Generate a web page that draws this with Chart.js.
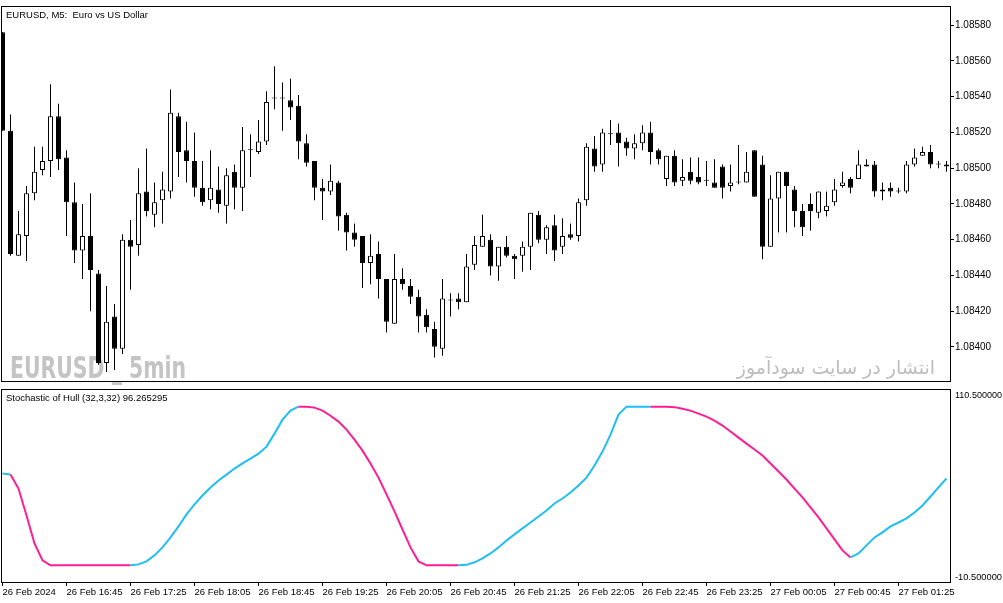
<!DOCTYPE html>
<html>
<head>
<meta charset="utf-8">
<script src="https://cdn.jsdelivr.net/npm/chart.js@4.4.0/dist/chart.umd.min.js"></script>
<style>
  html, body { margin: 0; padding: 0; background: #fff; }
  #wrap { position: relative; width: 1003px; height: 603px; overflow: hidden; }
  #priceChart { position: absolute; left: 0; top: 0; }
  #stochChart { position: absolute; left: 0; top: 388px; }
</style>
</head>
<body>
<div id="wrap">
  <canvas id="priceChart" width="1003" height="388"></canvas>
  <canvas id="stochChart" width="1003" height="215"></canvas>
</div>
<script>
// EURUSD M5 candles, one entry per bar (26 Feb 16:05 .. 27 Feb 01:55)
const candleOpen = [
  1.08576, 1.08521, 1.08451, 1.08462, 1.08486, 1.08499, 1.08504, 1.08529, 1.08506, 1.08481,
  1.08454, 1.08462, 1.08441, 1.08391, 1.08417, 1.08399, 1.08460, 1.08457, 1.08487, 1.08474,
  1.08482, 1.08487, 1.08529, 1.08510, 1.08504, 1.08489, 1.08482, 1.08488, 1.08479, 1.08498,
  1.08489, 1.08510, 1.08509, 1.08515, 1.08539, 1.08539, 1.08538, 1.08535, 1.08514, 1.08504,
  1.08489, 1.08487, 1.08492, 1.08474, 1.08464, 1.08462, 1.08447, 1.08452, 1.08438, 1.08413,
  1.08438, 1.08434, 1.08428, 1.08418, 1.08410, 1.08399, 1.08426, 1.08427, 1.08425, 1.08446,
  1.08456, 1.08460, 1.08445, 1.08456, 1.08451, 1.08451, 1.08456, 1.08474, 1.08460, 1.08468,
  1.08456, 1.08463, 1.08462, 1.08482, 1.08511, 1.08502, 1.08519, 1.08520, 1.08515, 1.08511,
  1.08514, 1.08520, 1.08510, 1.08494, 1.08507, 1.08493, 1.08498, 1.08495, 1.08493, 1.08492,
  1.08501, 1.08490, 1.08492, 1.08492, 1.08510, 1.08502, 1.08456, 1.08483, 1.08498, 1.08488,
  1.08476, 1.08480, 1.08475, 1.08476, 1.08481, 1.08490, 1.08494, 1.08494, 1.08502, 1.08502,
  1.08487, 1.08489, 1.08487, 1.08487, 1.08502, 1.08507, 1.08509, 1.08502, 1.08501
];
const candleHigh = [
  1.08576, 1.08530, 1.08476, 1.08490, 1.08512, 1.08512, 1.08547, 1.08536, 1.08510, 1.08492,
  1.08480, 1.08486, 1.08443, 1.08434, 1.08424, 1.08463, 1.08471, 1.08500, 1.08511, 1.08492,
  1.08498, 1.08544, 1.08531, 1.08526, 1.08520, 1.08504, 1.08510, 1.08501, 1.08500, 1.08502,
  1.08523, 1.08519, 1.08527, 1.08543, 1.08557, 1.08548, 1.08550, 1.08541, 1.08519, 1.08504,
  1.08494, 1.08502, 1.08493, 1.08475, 1.08469, 1.08462, 1.08463, 1.08459, 1.08438, 1.08452,
  1.08444, 1.08438, 1.08432, 1.08421, 1.08414, 1.08438, 1.08430, 1.08430, 1.08452, 1.08462,
  1.08474, 1.08463, 1.08456, 1.08462, 1.08452, 1.08459, 1.08475, 1.08476, 1.08468, 1.08474,
  1.08472, 1.08469, 1.08483, 1.08514, 1.08518, 1.08522, 1.08527, 1.08525, 1.08517, 1.08519,
  1.08524, 1.08526, 1.08511, 1.08507, 1.08510, 1.08505, 1.08506, 1.08506, 1.08504, 1.08505,
  1.08502, 1.08502, 1.08513, 1.08509, 1.08510, 1.08507, 1.08496, 1.08498, 1.08498, 1.08490,
  1.08480, 1.08486, 1.08487, 1.08487, 1.08494, 1.08498, 1.08495, 1.08510, 1.08505, 1.08504,
  1.08492, 1.08492, 1.08489, 1.08504, 1.08511, 1.08512, 1.08513, 1.08504, 1.08504
];
const candleLow = [
  1.08521, 1.08451, 1.08451, 1.08448, 1.08482, 1.08496, 1.08495, 1.08499, 1.08462, 1.08447,
  1.08438, 1.08420, 1.08390, 1.08386, 1.08387, 1.08396, 1.08432, 1.08451, 1.08473, 1.08467,
  1.08469, 1.08483, 1.08495, 1.08492, 1.08484, 1.08479, 1.08477, 1.08475, 1.08469, 1.08477,
  1.08476, 1.08495, 1.08508, 1.08513, 1.08533, 1.08521, 1.08527, 1.08505, 1.08501, 1.08482,
  1.08471, 1.08485, 1.08465, 1.08454, 1.08456, 1.08433, 1.08435, 1.08427, 1.08408, 1.08413,
  1.08432, 1.08424, 1.08408, 1.08408, 1.08394, 1.08395, 1.08417, 1.08421, 1.08425, 1.08443,
  1.08456, 1.08440, 1.08437, 1.08450, 1.08438, 1.08442, 1.08443, 1.08458, 1.08452, 1.08448,
  1.08452, 1.08460, 1.08459, 1.08479, 1.08498, 1.08498, 1.08513, 1.08501, 1.08507, 1.08505,
  1.08510, 1.08502, 1.08502, 1.08490, 1.08490, 1.08490, 1.08491, 1.08491, 1.08490, 1.08489,
  1.08483, 1.08487, 1.08491, 1.08492, 1.08484, 1.08449, 1.08456, 1.08464, 1.08464, 1.08467,
  1.08462, 1.08465, 1.08472, 1.08473, 1.08479, 1.08489, 1.08486, 1.08494, 1.08501, 1.08484,
  1.08482, 1.08484, 1.08486, 1.08486, 1.08501, 1.08507, 1.08500, 1.08500, 1.08498
];
const candleClose = [
  1.08521, 1.08452, 1.08463, 1.08486, 1.08498, 1.08504, 1.08529, 1.08505, 1.08481, 1.08454,
  1.08462, 1.08443, 1.08391, 1.08414, 1.08399, 1.08460, 1.08456, 1.08486, 1.08476, 1.08481,
  1.08488, 1.08531, 1.08509, 1.08504, 1.08489, 1.08481, 1.08489, 1.08480, 1.08496, 1.08489,
  1.08510, 1.08510, 1.08515, 1.08537, 1.08539, 1.08539, 1.08534, 1.08515, 1.08503, 1.08489,
  1.08487, 1.08493, 1.08473, 1.08464, 1.08460, 1.08447, 1.08451, 1.08438, 1.08414, 1.08438,
  1.08435, 1.08428, 1.08417, 1.08411, 1.08400, 1.08427, 1.08426, 1.08425, 1.08445, 1.08457,
  1.08462, 1.08445, 1.08456, 1.08451, 1.08449, 1.08456, 1.08475, 1.08460, 1.08467, 1.08454,
  1.08462, 1.08461, 1.08481, 1.08512, 1.08501, 1.08520, 1.08519, 1.08514, 1.08511, 1.08514,
  1.08520, 1.08509, 1.08505, 1.08507, 1.08492, 1.08495, 1.08493, 1.08492, 1.08493, 1.08489,
  1.08489, 1.08492, 1.08492, 1.08498, 1.08484, 1.08456, 1.08483, 1.08498, 1.08490, 1.08476,
  1.08467, 1.08476, 1.08487, 1.08479, 1.08488, 1.08492, 1.08489, 1.08502, 1.08501, 1.08487,
  1.08488, 1.08487, 1.08487, 1.08502, 1.08506, 1.08509, 1.08502, 1.08502, 1.08502
];

// Stochastic of Hull, one value per bar, and its direction (1 = rising/blue, 0 = falling/pink)
const stochValues = [
  57.9, 57.2, 48.4, 31.4, 13.8, 3.1, 0, 0, 0, 0,
  0, 0, 0, 0, 0, 0, 0, 0.6, 2.5, 6.3,
  11.3, 17.6, 24.5, 32.1, 38.4, 44.0, 49.1, 53.5, 57.2, 61.0,
  64.2, 67.3, 70.4, 74.8, 83.0, 91.8, 97.5, 100, 100, 99.4,
  97.5, 94.3, 90.6, 85.5, 79.2, 72.3, 64.2, 55.3, 44.7, 34.0,
  22.6, 11.3, 2.5, 0, 0, 0, 0, 0, 0.3, 1.9,
  4.4, 7.5, 11.3, 15.7, 19.5, 23.3, 27.0, 30.8, 34.6, 39.0,
  42.1, 45.9, 50.3, 55.3, 62.9, 71.7, 82.4, 95.0, 100, 100,
  100, 100, 100, 100, 99.7, 98.7, 97.5, 95.6, 93.7, 91.2,
  88.1, 84.3, 80.5, 76.7, 73.0, 69.2, 64.2, 59.1, 54.1, 48.4,
  42.8, 36.5, 30.2, 23.3, 16.4, 9.4, 5.0, 7.5, 12.6, 17.6,
  20.8, 24.5, 27.0, 29.6, 33.3, 37.7, 43.4, 49.1, 54.7
];
const stochUp = [
  1, 1, 0, 0, 0, 0, 0, 0, 0, 0,
  0, 0, 0, 0, 0, 0, 0, 1, 1, 1,
  1, 1, 1, 1, 1, 1, 1, 1, 1, 1,
  1, 1, 1, 1, 1, 1, 1, 1, 0, 0,
  0, 0, 0, 0, 0, 0, 0, 0, 0, 0,
  0, 0, 0, 0, 0, 0, 0, 0, 1, 1,
  1, 1, 1, 1, 1, 1, 1, 1, 1, 1,
  1, 1, 1, 1, 1, 1, 1, 1, 1, 1,
  1, 1, 0, 0, 0, 0, 0, 0, 0, 0,
  0, 0, 0, 0, 0, 0, 0, 0, 0, 0,
  0, 0, 0, 0, 0, 0, 0, 1, 1, 1,
  1, 1, 1, 1, 1, 1, 1, 1, 1
];

// axis ticks
const priceTicks = [1.08400, 1.08420, 1.08440, 1.08460, 1.08480, 1.08500, 1.08520, 1.08540, 1.08560, 1.08580];
const stochTicks = [110.5, -10.5];
const timeTicks = [0, 8, 16, 24, 32, 40, 48, 56, 64, 72, 80, 88, 96, 104, 112];
const timeLabels = [
  '26 Feb 2024', '26 Feb 16:45', '26 Feb 17:25', '26 Feb 18:05', '26 Feb 18:45',
  '26 Feb 19:25', '26 Feb 20:05', '26 Feb 20:45', '26 Feb 21:25', '26 Feb 22:05',
  '26 Feb 22:45', '26 Feb 23:25', '27 Feb 00:05', '27 Feb 00:45', '27 Feb 01:25'
];

const FONT = { family: '"Liberation Sans", Arial, sans-serif', size: 10 };
const SMALL_FONT = { family: '"Liberation Sans", Arial, sans-serif', size: 9.5 };
const UP_COLOR = '#1ebef5';
const DOWN_COLOR = '#ff1d93';
const X_MIN = -0.0625, X_MAX = 118.4375;
Chart.defaults.font = FONT;
Chart.defaults.color = '#000';
Chart.defaults.animation = false;

// frame around the plot and the small texts of each panel
function panelOverlay(title, watermarks, edgeLabels) {
  return {
    id: 'panelOverlay',
    beforeDatasetsDraw(chart) {
      const ctx = chart.ctx;
      ctx.save();
      watermarks.forEach(w => {
        ctx.font = w.font;
        ctx.fillStyle = w.color;
        ctx.textAlign = w.align;
        ctx.textBaseline = 'alphabetic';
        ctx.fillText(w.text, w.x, w.y, w.maxWidth);
      });
      ctx.restore();
    },
    afterDraw(chart) {
      const { ctx, chartArea: a } = chart;
      ctx.save();
      ctx.strokeStyle = '#000';
      ctx.lineWidth = 1;
      ctx.strokeRect(a.left - 0.5, a.top - 0.5, a.right - a.left + 1, a.bottom - a.top + 1);
      ctx.font = '9.5px "Liberation Sans", Arial, sans-serif';
      ctx.fillStyle = '#000';
      ctx.textAlign = 'left';
      ctx.textBaseline = 'middle';
      ctx.fillText(title, a.left + 4, a.top + 8);
      if (edgeLabels) {
        const ys = chart.scales.y;
        edgeLabels.forEach(v => {
          const py = ys.getPixelForValue(v);
          const inward = py < (a.top + a.bottom) / 2 ? 5 : -5;
          ctx.fillText(v.toFixed(6), a.right + 5, py + inward, 47);
        });
      }
      ctx.restore();
    }
  };
}

new Chart(document.getElementById('priceChart'), {
  type: 'bar',
  data: {
    datasets: [
      {
        label: 'body',
        data: candleOpen.map((o, i) => ({ x: i, y: [o, candleClose[i]] })),
        backgroundColor: c => candleClose[c.dataIndex] > candleOpen[c.dataIndex] ? '#fff' : '#000',
        borderColor: '#000',
        borderWidth: 1,
        borderSkipped: false,
        barThickness: 5,
        minBarLength: 1,
        inflateAmount: 0,
        grouped: false,
        order: 0
      },
      {
        label: 'wick',
        data: candleLow.map((l, i) => ({ x: i, y: [l, candleHigh[i]] })),
        backgroundColor: '#000',
        borderWidth: 0,
        barThickness: 1,
        minBarLength: 1,
        inflateAmount: 0,
        grouped: false,
        order: 1
      }
    ]
  },
  options: {
    responsive: false,
    layout: { padding: { left: 2, top: 2, right: 0, bottom: 2 } },
    plugins: { legend: { display: false }, tooltip: { enabled: false } },
    scales: {
      x: { type: 'linear', min: X_MIN, max: X_MAX, offset: false, display: false },
      y: {
        type: 'linear', position: 'right', min: 1.083809, max: 1.085902,
        afterBuildTicks: s => { s.ticks = priceTicks.map(v => ({ value: v })); },
        afterFit: s => { s.width = 53; },
        grid: { drawOnChartArea: false, tickLength: 4, color: '#000' },
        border: { display: false },
        ticks: { padding: 1, color: '#000', callback: v => v.toFixed(5) }
      }
    }
  },
  plugins: [panelOverlay('EURUSD, M5:  Euro vs US Dollar', [
    { text: 'EURUSD _ 5min', x: 10, y: 378, maxWidth: 176, align: 'left', color: '#c4c4c4',
      font: 'bold 30px "Liberation Sans Narrow", "DejaVu Sans Condensed", "Liberation Sans", sans-serif' },
    { text: 'انتشار در سایت سودآموز', x: 935, y: 374, maxWidth: 200, align: 'right', color: '#bdbdbd',
      font: '19px "DejaVu Sans", sans-serif' }
  ], null)]
});

new Chart(document.getElementById('stochChart'), {
  type: 'line',
  data: {
    datasets: [{
      label: 'Stochastic of Hull',
      data: stochValues.map((v, i) => ({ x: i, y: v })),
      borderColor: UP_COLOR,
      borderWidth: 2,
      pointRadius: 0,
      tension: 0,
      segment: { borderColor: c => stochUp[c.p1DataIndex] ? UP_COLOR : DOWN_COLOR }
    }]
  },
  options: {
    responsive: false,
    layout: { padding: { left: 2, top: 2, right: 0, bottom: 0 } },
    plugins: { legend: { display: false }, tooltip: { enabled: false } },
    scales: {
      x: {
        type: 'linear', min: X_MIN, max: X_MAX, offset: false, position: 'bottom',
        afterBuildTicks: s => { s.ticks = timeTicks.map(v => ({ value: v })); },
        afterFit: s => { s.height = 21; },
        grid: { drawOnChartArea: false, tickLength: 4, color: '#000' },
        border: { display: false },
        ticks: { autoSkip: false, maxRotation: 0, align: 'start', padding: 1, color: '#000',
                 font: SMALL_FONT, callback: (v, i) => timeLabels[i] }
      },
      y: {
        type: 'linear', position: 'right', min: -10.5, max: 110.5,
        afterFit: s => { s.width = 53; },
        grid: { display: false },
        border: { display: false },
        ticks: { display: false }
      }
    }
  },
  plugins: [panelOverlay('Stochastic of Hull (32,3,32) 96.265295', [], stochTicks)]
});
</script>
</body>
</html>
